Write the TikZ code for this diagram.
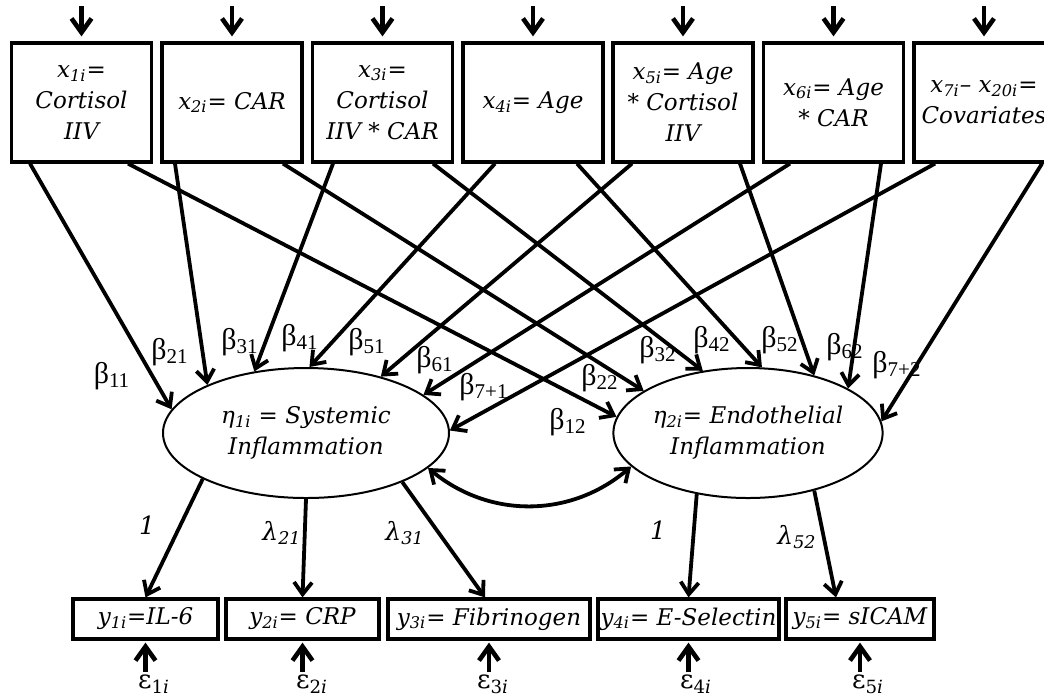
\documentclass[tikz,border=0pt]{standalone}
\usepackage{amsmath}
\usepackage{fontspec}
\usepackage{tikz}
\usetikzlibrary{arrows.meta,shapes.geometric}
\newfontfamily\grkfont{Liberation Serif}
\newfontfamily\varfont{DejaVu Serif}
\newcommand{\betalab}[1]{{\grkfont β\textsubscript{#1}}}
\newcommand{\sym}[2]{#1\textsubscript{#2}}

\begin{document}
\begin{tikzpicture}[x=0.5pt,y=-0.5pt,
    font=\fontsize{15}{18}\selectfont,
    xbox/.style={draw,line width=1.6pt,minimum width=70pt,minimum height=59.5pt,
      align=center,inner sep=1pt,font=\fontsize{11.5}{15.5}\varfont\itshape},
    ybox/.style={draw,line width=1.6pt,minimum height=20pt,inner sep=1pt,
      font=\fontsize{11.5}{15.5}\varfont\itshape},
    latent/.style={ellipse,draw,line width=1pt,minimum height=65pt,inner sep=0pt,
      align=center,font=\fontsize{11.5}{15.5}\varfont\itshape},
    coef/.style={font=\fontsize{12.5}{15}\varfont\itshape},
    resid/.style={inner sep=1pt,font=\fontsize{13}{15}\varfont},
    effect/.style={-{Straight Barb[length=6pt,width=9pt]},line width=1.9pt},
    input/.style={-{Straight Barb[length=7pt,width=10pt]},line width=2.3pt}]
    \useasboundingbox (0,0) rectangle (1044,698);
    \clip (0,0) rectangle (1044,698);

    % predictors
    \node[xbox] (x1) at (81.5,102.5) {\sym{x}{1i}=\\Cortisol\\IIV};
    \node[xbox] (x2) at (232,102.5) {\sym{x}{2i}= CAR};
    \node[xbox] (x3) at (382.5,102.5) {\sym{x}{3i}=\\Cortisol\\IIV * CAR};
    \node[xbox] (x4) at (533,102.5) {\sym{x}{4i}= Age};
    \node[xbox] (x5) at (683,102.5) {\sym{x}{5i}= Age\\* Cortisol\\IIV};
    \node[xbox] (x6) at (833.5,102.5) {\sym{x}{6i}= Age\\* CAR};
    \node[xbox] (x7) at (984,102.5) {\sym{x}{7i}– \sym{x}{20i}=\\Covariates};

    % latent factors
    \node[latent,minimum width=143pt] (eta1) at (306,433) {\sym{η}{1i} = Systemic\\Inflammation};
    \node[latent,minimum width=131pt] (eta2) at (748,433) {\sym{η}{2i}= Endothelial\\Inflammation};

    % indicators
    \node[ybox,minimum width=72.5pt] (y1) at (145.5,619) {\sym{y}{1i}=IL-6};
    \node[ybox,minimum width=76.5pt] (y2) at (302.5,619) {\sym{y}{2i}= CRP};
    \node[ybox,minimum width=101pt] (y3) at (489,619) {\sym{y}{3i}= Fibrinogen};
    \node[ybox,minimum width=90.5pt] (y4) at (688.5,619) {\sym{y}{4i}= E-Selectin};
    \node[ybox,minimum width=74pt] (y5) at (860,619) {\sym{y}{5i}= sICAM};

    % residuals
    \node[resid] (eps1) at (154,684) {\sym{ε}{1\itshape i}};
    \node[resid] (eps2) at (312,684) {\sym{ε}{2\itshape i}};
    \node[resid] (eps3) at (493,684) {\sym{ε}{3\itshape i}};
    \node[resid] (eps4) at (696,684) {\sym{ε}{4\itshape i}};
    \node[resid] (eps5) at (868,684) {\sym{ε}{5\itshape i}};

    \foreach \i in {1,...,7}
        \draw[input,shorten >=2.5pt] ([shift={(0,-35)}]x\i.north) -- (x\i.north);
    \foreach \i in {1,...,5}
        \draw[input,shorten >=1pt] ([shift={(0,31)}]y\i.south) -- (y\i.south);

    % paths to eta1
    \draw[effect] ([shift={(-51.5,0)}]x1.south) -- (eta1.170);
    \draw[effect] ([shift={(-57,0)}]x2.south) -- (eta1.154);
    \draw[effect] ([shift={(-49.5,0)}]x3.south) -- (eta1.130);
    \draw[effect] ([shift={(-38,0)}]x4.south) -- (eta1.87);
    \draw[effect] ([shift={(-51,0)}]x5.south) -- (eta1.37);
    \draw[effect] ([shift={(-43.5,0)}]x6.south) -- (eta1.18);
    \draw[effect] ([shift={(-49,0)}]x7.south) -- (eta1.1);
    % paths to eta2
    \draw[effect] ([shift={(46.5,0)}]x1.south) -- (eta2.173);
    \draw[effect] ([shift={(51,0)}]x2.south) -- (eta2.158);
    \draw[effect] ([shift={(50.5,0)}]x3.south) -- (eta2.126);
    \draw[effect] ([shift={(44,0)}]x4.south) -- (eta2.78);
    \draw[effect] ([shift={(57,0)}]x5.south) -- (eta2.41);
    \draw[effect] ([shift={(47.5,0)}]x6.south) -- (eta2.24);
    \draw[effect] ([shift={(58,0)}]x7.south) -- (eta2.5);

    \draw[effect,{Straight Barb[length=6pt,width=9pt]}-{Straight Barb[length=6pt,width=9pt]}]
        (eta1.-16) to[bend right=40] (eta2.-164);

    % loadings
    \draw[effect] (eta1.-156) -- (y1.north);
    \draw[effect] (eta1.-90) -- (y2.north);
    \draw[effect] (eta1.-27) -- ([shift={(-4,0)}]y3.north);
    \draw[effect] (eta2.-130) -- (y4.north);
    \draw[effect] (eta2.-41) -- ([shift={(-24,0)}]y5.north);

    \node (b11) at (112,376) {\betalab{11}};
    \node (b21) at (170,352) {\betalab{21}};
    \node (b31) at (240,342) {\betalab{31}};
    \node (b41) at (300,338) {\betalab{41}};
    \node (b51) at (367,342) {\betalab{51}};
    \node (b61) at (435,360) {\betalab{61}};
    \node (b71) at (484,387) {\betalab{7+1}};
    \node (b12) at (568,422) {\betalab{12}};
    \node (b22) at (600,378) {\betalab{22}};
    \node (b32) at (658,350) {\betalab{32}};
    \node (b42) at (712,340) {\betalab{42}};
    \node (b52) at (780,340) {\betalab{52}};
    \node (b62) at (845,347) {\betalab{62}};
    \node (b72) at (897,365) {\betalab{7+2}};

    \node[coef] (l11) at (147,525) {1};
    \node[coef] (l21) at (282,533) {\sym{λ}{21}};
    \node[coef] (l31) at (405,533) {\sym{λ}{31}};
    \node[coef] (l42) at (658,530) {1};
    \node[coef] (l52) at (797,537) {\sym{λ}{52}};
\end{tikzpicture}
\end{document}
